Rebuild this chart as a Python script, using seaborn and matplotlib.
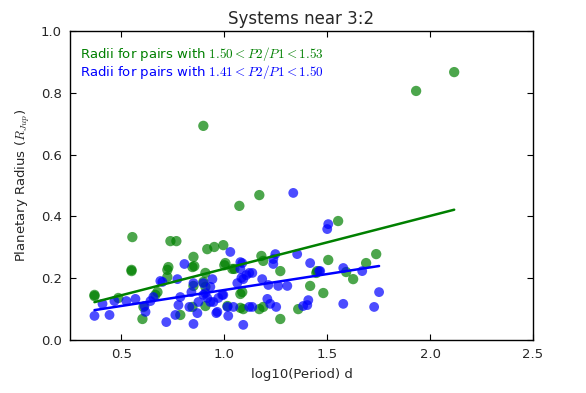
import numpy as np
import pandas as pd
import matplotlib
matplotlib.use("Agg")
import matplotlib.pyplot as plt
import seaborn as sns

# Green: pairs with 1.50 < P2/P1 < 1.53
green_logp = [0.369, 0.369, 0.485, 0.553, 0.549, 0.549, 0.602, 0.607, 0.665, 0.675,
              0.723, 0.728, 0.723, 0.738, 0.767, 0.786, 0.850, 0.854, 0.845, 0.917,
              0.951, 0.995, 0.908, 0.898, 0.908, 0.908, 0.845, 0.850, 1.005, 1.000,
              1.073, 1.049, 1.015, 1.078, 1.039, 0.898, 1.170, 1.180, 1.189, 1.272,
              1.087, 1.078, 1.092, 1.170, 1.189, 1.272, 1.417, 1.359, 1.451, 1.505,
              1.553, 1.592, 1.626, 1.689, 1.738, 1.481, 1.447, 1.932, 2.117]
green_rad = [0.142, 0.146, 0.136, 0.333, 0.223, 0.227, 0.068, 0.107, 0.146, 0.155,
             0.227, 0.236, 0.204, 0.320, 0.320, 0.081, 0.269, 0.239, 0.236, 0.294,
             0.301, 0.307, 0.217, 0.188, 0.172, 0.110, 0.107, 0.175, 0.249, 0.242,
             0.434, 0.230, 0.110, 0.149, 0.230, 0.693, 0.469, 0.272, 0.256, 0.223,
             0.155, 0.104, 0.100, 0.100, 0.107, 0.068, 0.175, 0.100, 0.223, 0.259,
             0.385, 0.220, 0.197, 0.249, 0.278, 0.152, 0.217, 0.806, 0.867]

# Blue: pairs with 1.41 < P2/P1 < 1.50
blue_logp = [0.369, 0.408, 0.442, 0.466, 0.524, 0.568, 0.617, 0.612, 0.641, 0.655,
             0.689, 0.718, 0.772, 0.762, 0.777, 0.786, 0.806, 0.830, 0.850, 0.850,
             0.840, 0.869, 0.874, 0.898, 0.917, 0.932, 0.942, 0.947, 0.961, 0.971,
             0.995, 1.019, 1.015, 1.029, 1.044, 1.063, 1.078, 0.699, 0.898, 0.908,
             0.932, 0.966, 0.990, 1.083, 1.335, 1.505, 1.500, 1.087, 1.078, 1.107,
             1.136, 1.092, 1.184, 1.214, 1.248, 1.238, 1.238, 1.262, 1.306, 1.354,
             1.417, 1.461, 1.209, 1.223, 1.252, 1.136, 1.092, 1.383, 1.403, 1.408,
             1.578, 1.578, 1.670, 1.728, 1.752, 1.121, 1.121, 1.466]
blue_rad = [0.078, 0.117, 0.081, 0.126, 0.126, 0.133, 0.091, 0.110, 0.126, 0.139,
            0.191, 0.058, 0.197, 0.081, 0.113, 0.139, 0.246, 0.107, 0.052, 0.184,
            0.155, 0.087, 0.123, 0.146, 0.136, 0.172, 0.197, 0.123, 0.087, 0.136,
            0.146, 0.078, 0.107, 0.285, 0.107, 0.184, 0.252, 0.188, 0.184, 0.152,
            0.123, 0.091, 0.146, 0.201, 0.476, 0.375, 0.359, 0.249, 0.230, 0.210,
            0.217, 0.197, 0.197, 0.178, 0.278, 0.262, 0.246, 0.175, 0.175, 0.278,
            0.249, 0.223, 0.133, 0.117, 0.107, 0.107, 0.049, 0.110, 0.113, 0.129,
            0.233, 0.117, 0.223, 0.107, 0.155, 0.217, 0.107, 0.223]

title = "Systems near 3:2"
xlabel = "log10(Period) d"
ylabel = r"Planetary Radius ($R_{Jup}$)"
label_green = r"Radii for pairs with $1.50 < P2/P1 < 1.53$"
label_blue = r"Radii for pairs with $1.41 < P2/P1 < 1.50$"

sns.set_theme(style="ticks")
plt.rcParams["font.family"] = ["DejaVu Sans"]
plt.rcParams["mathtext.fontset"] = "cm"

dfg = pd.DataFrame({"x": green_logp, "y": green_rad})
dfb = pd.DataFrame({"x": blue_logp, "y": blue_rad})

fig = plt.figure(figsize=(5.86, 3.93), dpi=100)
ax = fig.add_axes([70 / 586, (393 - 340) / 393, 463 / 586, 309 / 393])

sns.scatterplot(data=dfg, x="x", y="y", ax=ax, color=(0, 0.5, 0), alpha=0.7,
                s=55, edgecolor="none", zorder=3)
sns.scatterplot(data=dfb, x="x", y="y", ax=ax, color=(0, 0, 1), alpha=0.7,
                s=50, edgecolor="none", zorder=3)
sns.regplot(data=dfg, x="x", y="y", ax=ax, scatter=False, ci=None, truncate=True,
            line_kws=dict(color=(0, 0.5, 0), lw=1.8, zorder=4))
sns.regplot(data=dfb, x="x", y="y", ax=ax, scatter=False, ci=None, truncate=True,
            line_kws=dict(color=(0, 0, 1), lw=1.8, zorder=4))

ax.set_xlim(0.25, 2.5)
ax.set_ylim(0.0, 1.0)
ax.set_xticks([0.5, 1.0, 1.5, 2.0, 2.5])
ax.set_yticks([0.0, 0.2, 0.4, 0.6, 0.8, 1.0])
ax.tick_params(direction="in", top=True, right=True, labelsize=9.5, length=4,
               width=0.8, color="black", pad=6)
for sp in ax.spines.values():
    sp.set_color("black")
    sp.set_linewidth(1.0)

ax.set_title(title, fontsize=12, pad=5)
ax.set_xlabel(xlabel, fontsize=9.5, labelpad=5)
ax.set_ylabel(ylabel, fontsize=9.5, labelpad=6)

ax.text(0.022, 0.927, label_green, transform=ax.transAxes, color=(0, 0.5, 0),
        fontsize=9.5, va="center", ha="left")
ax.text(0.022, 0.868, label_blue, transform=ax.transAxes, color=(0, 0, 1),
        fontsize=9.5, va="center", ha="left")

fig.savefig("out.png", dpi=100)
